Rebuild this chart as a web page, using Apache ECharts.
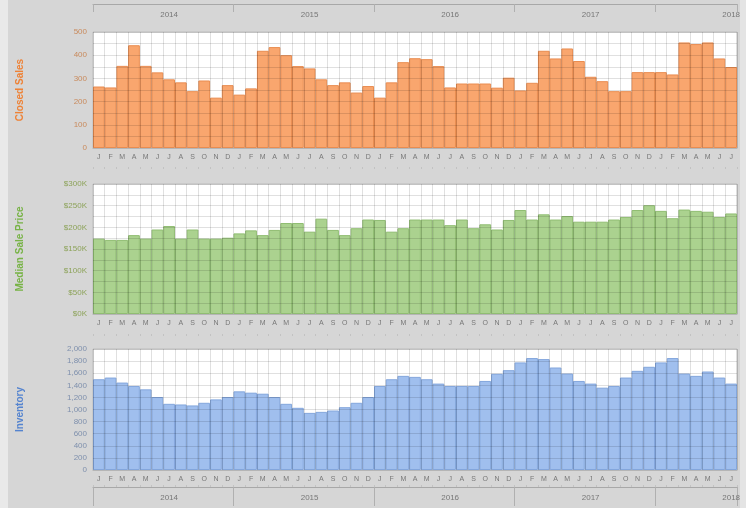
<!DOCTYPE html>
<html>
<head>
<meta charset="utf-8">
<script src="https://cdn.jsdelivr.net/npm/echarts@6/dist/echarts.min.js"></script>
<style>
html,body{margin:0;padding:0;background:#d6d6d6;}
#c{width:746px;height:508px;}
</style>
</head>
<body>
<div id="c"></div>
<script>
const monthLetters = ['J','F','M','A','M','J','J','A','S','O','N','D'];
const years = [2014, 2015, 2016, 2017, 2018];
const lastYearMonths = 7;

const closedSales = [265,261,354,443,354,326,296,283,245,291,217,271,
  230,257,419,435,400,353,343,296,271,283,239,267,
  217,283,370,387,383,353,261,278,278,278,260,303,
  248,281,419,386,429,375,307,288,245,245,327,327,
  327,317,455,448,455,386,349];
const medianPriceK = [174,171,171,182,174,195,203,174,195,174,174,176,
  186,193,182,194,210,210,190,220,194,182,198,218,
  217,190,198,218,218,218,205,218,198,207,195,217,
  240,218,230,218,226,213,213,213,218,224,240,251,
  238,221,241,238,236,224,232];
const inventory = [1500,1528,1445,1389,1333,1206,1094,1083,1067,1111,1167,1206,
  1300,1278,1261,1206,1094,1028,944,961,983,1038,1111,1206,
  1389,1500,1556,1539,1500,1428,1389,1389,1389,1472,1590,1650,
  1778,1850,1833,1694,1594,1472,1428,1361,1389,1528,1639,1706,
  1778,1850,1594,1556,1628,1528,1428];

const cats = [];
years.forEach((y, yi) => {
  const n = yi === years.length - 1 ? lastYearMonths : 12;
  for (let m = 0; m < n; m++) cats.push(y + '-' + (m + 1));
});

const FONT = 'Liberation Sans, Arial, sans-serif';
const gridLine = 'rgba(0,0,0,0.12)';

function monthAxis(gi) {
  return {
    type: 'category', gridIndex: gi, data: cats, position: 'bottom', z: 3,
    axisLine: {show: true, lineStyle: {color: '#b5b5b5'}},
    axisTick: {show: false},
    axisLabel: {interval: 0, fontSize: 7, color: '#777', fontFamily: FONT, margin: 6,
      formatter: v => monthLetters[+v.split('-')[1] - 1]},
    splitLine: {show: true, interval: 0, lineStyle: {color: gridLine}}
  };
}
function dashAxis(gi, offset) {
  return {
    type: 'category', gridIndex: gi, data: cats, position: 'bottom', offset: offset,
    axisLine: {show: false},
    axisTick: {show: true, interval: 0, length: 2, lineStyle: {color: '#c2c2c2'}},
    axisLabel: {show: false}, splitLine: {show: false}
  };
}
function yearAxis(gi, pos, offset) {
  return {
    type: 'category', gridIndex: gi, data: cats, position: pos, offset: offset,
    axisLine: {show: true, lineStyle: {color: '#a8a8a8'}},
    axisTick: {show: true, inside: pos === 'top', length: pos === 'top' ? 8 : 19,
      interval: (i) => i % 12 === 0, lineStyle: {color: '#b0b0b0'}},
    axisLabel: {show: true, inside: pos === 'top', interval: (i) => i % 12 === 6,
      fontSize: 8, color: '#777', fontFamily: FONT, margin: 7,
      formatter: v => v.split('-')[0]},
    splitLine: {show: false}
  };
}
function yAxis(gi, name, nameColor, labelColor, max, interval, fmt, minor) {
  const a = {
    type: 'value', gridIndex: gi, min: 0, max: max, interval: interval, z: 3,
    name: name, nameLocation: 'middle', nameGap: 68,
    nameTextStyle: {color: nameColor, fontSize: 10, fontWeight: 'bold', fontFamily: FONT},
    axisLine: {show: false}, axisTick: {show: false},
    axisLabel: {fontSize: 8, color: labelColor, fontFamily: FONT, margin: 6, formatter: fmt},
    splitLine: {show: true, lineStyle: {color: gridLine}}
  };
  if (minor) {
    a.minorTick = {show: false, splitNumber: 2};
    a.minorSplitLine = {show: true, lineStyle: {color: gridLine}};
  }
  return a;
}

const chart = echarts.init(document.getElementById('c'), null, {renderer: 'canvas'});
const gridBase = {left: 93, right: 9, show: true, backgroundColor: '#ffffff', borderColor: '#bdbdbd', borderWidth: 1};
chart.setOption({
  backgroundColor: '#d6d6d6',
  animation: false,
  textStyle: {fontFamily: FONT},
  graphic: [
    {type: 'rect', shape: {x: 0, y: 0, width: 8, height: 508}, style: {fill: '#e9e9e9'}, silent: true},
    {type: 'rect', shape: {x: 740, y: 0, width: 6, height: 508}, style: {fill: '#e4e4e4'}, silent: true}
  ],
  grid: [
    Object.assign({top: 32, height: 116}, gridBase),
    Object.assign({top: 184, height: 130}, gridBase),
    Object.assign({top: 349, height: 121}, gridBase)
  ],
  xAxis: [
    monthAxis(0), monthAxis(1), monthAxis(2),
    dashAxis(0, 19), dashAxis(1, 20), dashAxis(2, 15),
    yearAxis(0, 'top', 28),
    yearAxis(2, 'bottom', 17)
  ],
  yAxis: [
    yAxis(0, 'Closed Sales', '#ee8236', '#c98a5c', 500, 100, v => v, true),
    yAxis(1, 'Median Sale Price', '#78b347', '#8da35a', 300, 50, v => '$' + v + 'K', true),
    yAxis(2, 'Inventory', '#5584cf', '#7f90ad', 2000, 200, v => v.toLocaleString('en-US'), false)
  ],
  series: [
    {type: 'bar', xAxisIndex: 0, yAxisIndex: 0, data: closedSales, barCategoryGap: '0%',
      itemStyle: {color: '#f9a66e', borderColor: '#e98c50', borderWidth: 1}},
    {type: 'bar', xAxisIndex: 1, yAxisIndex: 1, data: medianPriceK, barCategoryGap: '0%',
      itemStyle: {color: '#abd28f', borderColor: '#90bd72', borderWidth: 1}},
    {type: 'bar', xAxisIndex: 2, yAxisIndex: 2, data: inventory, barCategoryGap: '0%',
      itemStyle: {color: '#a0bfee', borderColor: '#83a6dc', borderWidth: 1}}
  ]
});
</script>
</body>
</html>
